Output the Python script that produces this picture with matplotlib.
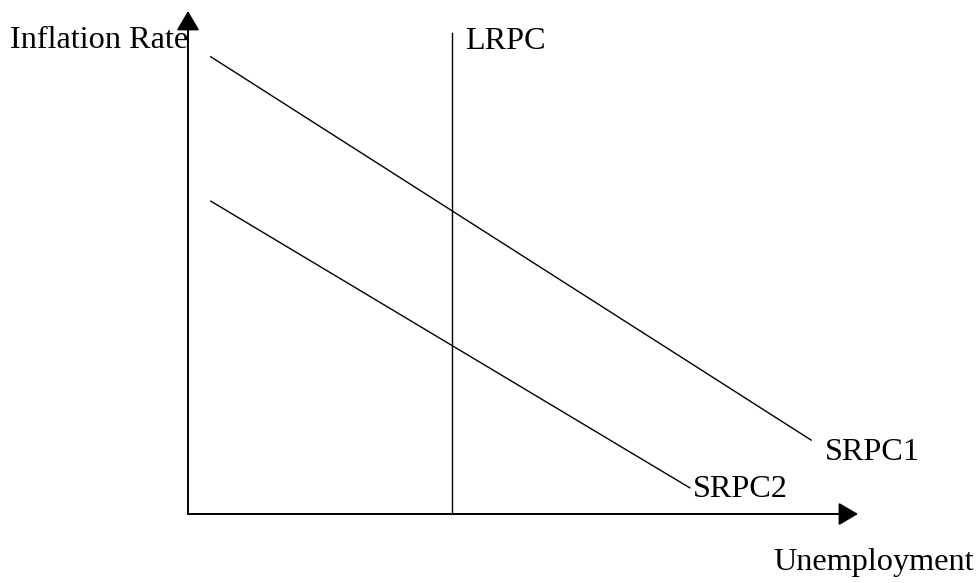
import matplotlib.pyplot as plt

plt.rcParams['font.family'] = ['Liberation Serif', 'DejaVu Serif']

# curve end points (unemployment, inflation) in arbitrary units
srpc1_x = [0.34, 9.30]
srpc1_y = [9.09, 1.47]
srpc2_x = [0.34, 7.49]
srpc2_y = [6.22, 0.52]
lrpc_x = [3.94, 3.94]
lrpc_y = [0.0, 9.56]

labels = ['SRPC1', 'SRPC2', 'LRPC']
label_x = [9.50, 7.54, 4.13]
label_y = [1.23, 0.48, 9.40]

fig = plt.figure(figsize=(9.8, 5.83), dpi=100)
ax = fig.add_axes([188 / 980, 69 / 583, 670 / 980, 503 / 583])
ax.set_xlim(0, 10)
ax.set_ylim(0, 10)
ax.axis('off')

ax.plot(srpc1_x, srpc1_y, color='black', lw=1.0)
ax.plot(srpc2_x, srpc2_y, color='black', lw=1.0)
ax.plot(lrpc_x, lrpc_y, color='black', lw=1.0)

# axes with arrow heads
arrow = dict(arrowstyle='-|>,head_length=0.85,head_width=0.5', color='black',
             lw=1.4, mutation_scale=14, shrinkA=0, shrinkB=0)
ax.annotate('', xy=(10, 0), xytext=(0, 0), arrowprops=arrow, annotation_clip=False)
ax.annotate('', xy=(0, 10), xytext=(0, 0), arrowprops=arrow, annotation_clip=False)

for t, x, y in zip(labels, label_x, label_y):
    ax.text(x, y, t, fontsize=23.2, ha='left', va='center', clip_on=False)

ax.text(0, 9.42, 'Inflation Rate', fontsize=23.2, ha='right', va='center', clip_on=False)
ax.text(8.74, -0.97, 'Unemployment', fontsize=23.2, ha='left', va='center', clip_on=False)

fig.savefig('out.png', dpi=100)
